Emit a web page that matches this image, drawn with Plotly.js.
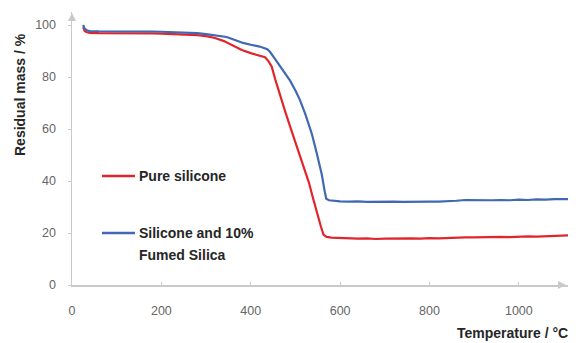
<!DOCTYPE html>
<html>
<head>
<meta charset="utf-8">
<script src="https://cdn.plot.ly/plotly-3.0.1.min.js"></script>
<style>html,body{margin:0;padding:0;background:#fff;}#chart{width:588px;height:343px;}</style>
</head>
<body>
<div id="chart"></div>
<script>
// Temperature (°C) and residual mass (%)
var tempPure = [25,28,32,40,60,80,100,120,140,160,180,200,220,240,260,280,300,320,340,360,380,400,420,432,440,447,455,466,477,488,500,510,520,530,540,550,557,563,570,580,600,620,640,660,680,700,720,740,760,780,800,820,840,860,880,900,920,940,960,980,1000,1020,1040,1060,1080,1100,1110];
var massPure = [99.2,97.8,97.3,97.0,96.9,96.9,96.9,97.0,97.0,96.9,96.8,96.7,96.6,96.5,96.3,96.1,95.7,95.0,93.8,92.0,90.4,89.2,88.1,87.6,86.0,84.0,79.0,72.5,66.8,61.0,55.0,50.0,45.0,39.5,33.0,26.5,22.5,19.3,18.5,18.2,18.0,17.9,17.8,17.9,17.7,17.8,17.9,17.8,17.9,17.8,18.0,17.9,18.1,18.2,18.3,18.3,18.4,18.4,18.5,18.4,18.6,18.7,18.6,18.8,18.9,19.0,19.1];

var tempFumed = [25,28,34,40,60,80,100,120,140,160,180,200,220,240,260,280,300,320,346,360,383,400,420,437,443,455,466,477,488,500,510,522,530,537,548,559,565,569,575,585,600,620,640,660,680,700,720,740,760,780,800,820,840,860,880,900,920,940,960,980,1000,1020,1040,1060,1080,1100,1110];
var massFumed = [100.0,98.6,97.9,97.7,97.6,97.6,97.6,97.7,97.7,97.6,97.5,97.4,97.3,97.1,97.0,96.9,96.5,96.0,95.4,94.5,93.1,92.4,91.7,90.7,89.7,86.8,84.0,81.3,78.6,74.8,71.2,65.8,62.0,58.0,50.5,42.5,36.5,33.2,32.6,32.4,32.2,32.1,32.2,32.0,32.1,32.0,32.1,32.0,32.1,32.0,32.1,32.1,32.2,32.4,32.7,32.6,32.7,32.6,32.7,32.6,32.8,32.7,32.9,32.8,33.0,32.9,33.0];

var seriesNames = ["Pure silicone", "Silicone and 10%", "Fumed Silica"];
var xTicks = [0,200,400,600,800,1000];
var yTicks = [0,20,40,60,80,100];

var red = "#e0262c", blue = "#4168b2", axisGrey = "#c9c9c9";
var titleFont = {family: "Liberation Sans, Arial, sans-serif", size: 14, color: "#262626", weight: "bold"};

var traces = [
  {x: tempPure, y: massPure, type: "scatter", mode: "lines", name: seriesNames[0], line: {color: red, width: 2.2}, showlegend: false},
  {x: tempFumed, y: massFumed, type: "scatter", mode: "lines", name: seriesNames[1] + " " + seriesNames[2], line: {color: blue, width: 2.2}, showlegend: false}
];

// plot area: left 72px, right 568px, top 12px, bottom 285px
var W = 496, H = 273;
function px(p){ return (p - 72) / W; }
function py(p){ return (285 - p) / H; }

var layout = {
  width: 588, height: 343,
  margin: {l: 72, r: 20, t: 12, b: 58},
  paper_bgcolor: "#fff", plot_bgcolor: "#fff",
  xaxis: {
    range: [0, 1110], tickvals: xTicks, ticktext: xTicks.map(String),
    showgrid: false, zeroline: false, showline: true, linecolor: axisGrey, linewidth: 1.5,
    ticks: "inside", ticklen: 3, tickcolor: axisGrey, ticklabelstandoff: 13,
    tickfont: {family: "Liberation Sans, Arial, sans-serif", size: 12.5, color: "#666"}
  },
  yaxis: {
    range: [0, 105], tickvals: yTicks, ticktext: yTicks.map(String),
    showgrid: false, zeroline: false, showline: true, linecolor: axisGrey, linewidth: 1.5,
    ticks: "outside", ticklen: 3, tickcolor: axisGrey, ticklabelstandoff: 9,
    tickfont: {family: "Liberation Sans, Arial, sans-serif", size: 12.5, color: "#666"}
  },
  showlegend: false,
  shapes: [
    // axis arrow heads
    {type: "path", xref: "paper", yref: "paper", xsizemode: "pixel", ysizemode: "pixel", xanchor: 0, yanchor: 1,
     path: "M -4,-9 L 0,-1 L 4,-9 Z", fillcolor: axisGrey, line: {width: 0}},
    {type: "path", xref: "paper", yref: "paper", xsizemode: "pixel", ysizemode: "pixel", xanchor: 1, yanchor: 0,
     path: "M -10,4 L -2,0 L -10,-4 Z", fillcolor: axisGrey, line: {width: 0}},
    // legend keys
    {type: "line", xref: "paper", yref: "paper", x0: px(102), x1: px(135), y0: py(176), y1: py(176), line: {color: red, width: 2.5}},
    {type: "line", xref: "paper", yref: "paper", x0: px(102), x1: px(135), y0: py(233), y1: py(233), line: {color: blue, width: 2.5}}
  ],
  annotations: [
    {text: "Residual mass / %", xref: "paper", yref: "paper", x: (20 - 72) / W, y: py(95), textangle: -90,
     showarrow: false, xanchor: "center", yanchor: "middle", font: titleFont},
    {text: "Temperature / °C", xref: "paper", yref: "paper", x: px(512), y: py(333),
     showarrow: false, xanchor: "center", yanchor: "middle", font: titleFont},
    {text: seriesNames[0], xref: "paper", yref: "paper", x: px(137), y: py(176), showarrow: false,
     xanchor: "left", yanchor: "middle", font: titleFont},
    {text: seriesNames[1], xref: "paper", yref: "paper", x: px(137), y: py(233), showarrow: false,
     xanchor: "left", yanchor: "middle", font: titleFont},
    {text: seriesNames[2], xref: "paper", yref: "paper", x: px(137), y: py(255), showarrow: false,
     xanchor: "left", yanchor: "middle", font: titleFont}
  ]
};

Plotly.newPlot("chart", traces, layout, {displayModeBar: false, staticPlot: true});
</script>
</body>
</html>
